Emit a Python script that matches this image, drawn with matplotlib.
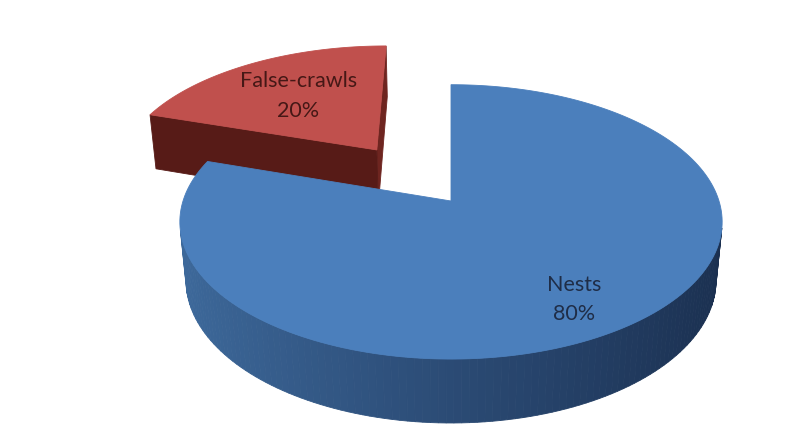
import numpy as np
import matplotlib.pyplot as plt
from matplotlib.colors import LinearSegmentedColormap

labels = ['Nests', 'False-crawls']
values = np.array([80, 20])
explode = [0.0, 0.5]
label_r = [0.78, 0.6]
label_turn = [-4, 0]   # degrees, nudges label off the mid line
top_colors = ['#4b7fbc', '#c0504d']
side_colors = [['#3e6a9c', '#2b4b75', '#1a2f4f'], ['#6e2520', '#5d1e1a', '#571b17']]
text_colors = ['#1f2d47', '#451816']

# view set-up (perspective, 30 deg elevation)
elev = np.radians(30)
se, ce = np.sin(elev), np.cos(elev)
dist = 5.69
thick = 0.255
scale = 268          # px per unit at pie centre
cx, cy = 451, 201    # pie centre in px
camera = np.array([0.0, -dist * ce, dist * se])


def depth(x, y, z):
    return y * ce - z * se


def project(x, y, z):
    v = y * se + z * ce
    s = dist / (dist + depth(x, y, z))
    return x * s, v * s


fig = plt.figure(figsize=(7.89, 4.29), dpi=100, facecolor='white')
ax = fig.add_axes([8 / 789, 0, 1 - 8 / 789, 1 - 5 / 429])
ax.set_facecolor('#f5f9fd')
ax.set_xlim((8 - cx) / scale, (789 - cx) / scale)
ax.set_ylim(-(429 - cy) / scale, (cy - 5) / scale)
ax.axis('off')
ax.patch.set_visible(True)

# wedge angles: start at 12 o'clock, go clockwise
fracs = values / values.sum()
bounds = 90 - 360 * np.concatenate([[0], np.cumsum(fracs)])

wedges = []
for i in range(len(values)):
    t1, t2 = bounds[i], bounds[i + 1]
    mid = np.radians((t1 + t2) / 2)
    ox, oy = explode[i] * np.cos(mid), explode[i] * np.sin(mid)
    wedges.append((depth(ox, oy, 0), i, t1, t2, ox, oy, mid))

# far wedges first
for _, i, t1, t2, ox, oy, mid in sorted(wedges, reverse=True):
    phi = np.radians(np.linspace(t1, t2, 200))
    px = ox + np.cos(phi)
    py = oy + np.sin(phi)
    faces = []
    cmap = LinearSegmentedColormap.from_list('side', side_colors[i])

    # outer curved wall
    for j in range(len(phi) - 1):
        pm = (phi[j] + phi[j + 1]) / 2
        n = np.array([np.cos(pm), np.sin(pm), 0])
        p0 = np.array([px[j], py[j], 0])
        if n @ (camera - p0) <= 0:
            continue
        quad = [(px[j], py[j], 0), (px[j + 1], py[j + 1], 0),
                (px[j + 1], py[j + 1], -thick), (px[j], py[j], -thick)]
        col = cmap((1 + np.cos(pm)) / 2)
        faces.append((depth(px[j], py[j], -thick / 2), quad, col))

    # radial walls
    for ang, sign, col in [(t1, 1, side_colors[i][2]), (t2, -1, side_colors[i][0])]:
        a = np.radians(ang)
        na = a + sign * np.pi / 2
        n = np.array([np.cos(na), np.sin(na), 0])
        ex, ey = ox + np.cos(a), oy + np.sin(a)
        p0 = np.array([(ox + ex) / 2, (oy + ey) / 2, 0])
        if n @ (camera - p0) <= 1e-9:
            continue
        quad = [(ox, oy, 0), (ex, ey, 0), (ex, ey, -thick), (ox, oy, -thick)]
        faces.append((depth(p0[0], p0[1], -thick / 2), quad, col))

    for _, quad, col in sorted(faces, key=lambda f: -f[0]):
        pts = [project(*q) for q in quad]
        ax.fill(*zip(*pts), color=col, lw=0.6, ec=col)

    # top face
    top = [project(ox, oy, 0)] + [project(x, y, 0) for x, y in zip(px, py)]
    ax.fill(*zip(*top), color=top_colors[i], lw=0.6, ec=top_colors[i])

    # label
    la = mid + np.radians(label_turn[i])
    lx = ox + label_r[i] * np.cos(la)
    ly = oy + label_r[i] * np.sin(la)
    tx, ty = project(lx, ly, 0)
    ax.text(tx, ty, '%s\n%d%%' % (labels[i], round(fracs[i] * 100)),
            ha='center', va='center', fontsize=15.5, family='Lato',
            color=text_colors[i], linespacing=1.6)

fig.savefig('out.png', dpi=100, facecolor=fig.get_facecolor())
